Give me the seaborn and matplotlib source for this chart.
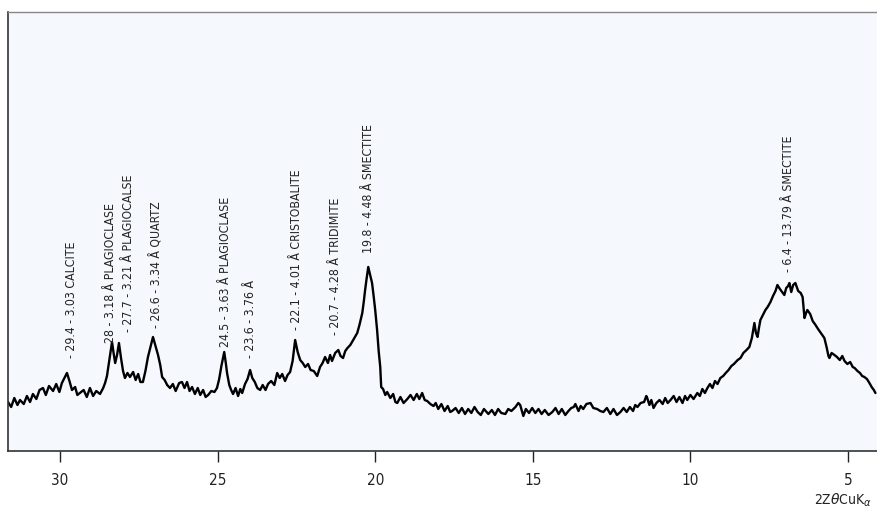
import matplotlib
matplotlib.use("Agg")
import matplotlib.pyplot as plt
import seaborn as sns
import pandas as pd
from matplotlib import font_manager
from matplotlib.font_manager import FontProperties

# ---- data (intensity in arbitrary units) ----
two_theta = [31.65, 31.55, 31.45, 31.35, 31.27, 31.15, 31.05, 30.95, 30.86, 30.75, 30.65, 30.54, 30.45, 30.35,
             30.22, 30.12, 30.02, 29.94, 29.86, 29.78, 29.70, 29.62, 29.52, 29.45, 29.37, 29.25, 29.15, 29.05,
             28.95, 28.85, 28.73, 28.63, 28.57, 28.51, 28.43, 28.35, 28.30, 28.25, 28.19, 28.13, 28.06, 28.00,
             27.94, 27.86, 27.78, 27.68, 27.60, 27.52, 27.45, 27.37, 27.29, 27.21, 27.13, 27.05, 26.97, 26.89,
             26.82, 26.76, 26.68, 26.60, 26.51, 26.42, 26.33, 26.22, 26.13, 26.05, 25.97, 25.89, 25.81, 25.72,
             25.63, 25.55, 25.46, 25.38, 25.30, 25.20, 25.10, 25.02, 24.95, 24.88, 24.79, 24.74, 24.70, 24.63,
             24.57, 24.51, 24.43, 24.35, 24.28, 24.22, 24.13, 24.05, 23.97, 23.90, 23.82, 23.74, 23.65, 23.57,
             23.48, 23.40, 23.30, 23.20, 23.11, 23.03, 22.95, 22.86, 22.78, 22.70, 22.62, 22.54, 22.46, 22.38,
             22.30, 22.22, 22.13, 22.05, 21.95, 21.84, 21.75, 21.67, 21.59, 21.50, 21.43, 21.37, 21.27, 21.17,
             21.10, 21.02, 20.95, 20.88, 20.79, 20.70, 20.63, 20.57, 20.50, 20.41, 20.36, 20.32, 20.27, 20.22,
             20.16, 20.10, 20.05, 20.00, 19.94, 19.89, 19.84, 19.81, 19.75, 19.68, 19.62, 19.52, 19.43, 19.36,
             19.30, 19.20, 19.10, 18.98, 18.88, 18.78, 18.68, 18.60, 18.51, 18.43, 18.35, 18.25, 18.15, 18.08,
             18.00, 17.90, 17.80, 17.70, 17.62, 17.56, 17.45, 17.35, 17.25, 17.15, 17.05, 16.95, 16.85, 16.75,
             16.65, 16.55, 16.41, 16.30, 16.20, 16.10, 16.00, 15.87, 15.78, 15.68, 15.55, 15.46, 15.40, 15.30,
             15.22, 15.12, 15.02, 14.92, 14.82, 14.72, 14.62, 14.50, 14.38, 14.28, 14.18, 14.08, 13.97, 13.87,
             13.78, 13.70, 13.65, 13.55, 13.48, 13.40, 13.30, 13.17, 13.08, 12.96, 12.86, 12.76, 12.65, 12.54,
             12.44, 12.33, 12.22, 12.12, 12.02, 11.92, 11.82, 11.75, 11.68, 11.58, 11.47, 11.40, 11.37, 11.30,
             11.24, 11.17, 11.08, 10.98, 10.88, 10.80, 10.72, 10.63, 10.53, 10.44, 10.35, 10.25, 10.17, 10.10,
             10.00, 9.90, 9.78, 9.70, 9.62, 9.54, 9.46, 9.38, 9.30, 9.22, 9.14, 9.05, 8.96, 8.88, 8.79, 8.70,
             8.62, 8.50, 8.41, 8.32, 8.22, 8.13, 8.05, 7.97, 7.92, 7.87, 7.82, 7.78, 7.70, 7.62, 7.55, 7.46,
             7.38, 7.30, 7.24, 7.16, 7.09, 7.02, 6.96, 6.90, 6.86, 6.80, 6.74, 6.67, 6.58, 6.50, 6.44, 6.40,
             6.38, 6.33, 6.29, 6.20, 6.12, 6.03, 5.95, 5.86, 5.75, 5.68, 5.62, 5.59, 5.52, 5.43, 5.35, 5.26,
             5.18, 5.11, 5.02, 4.93, 4.85, 4.79, 4.70, 4.62, 4.55, 4.48, 4.40, 4.32, 4.25, 4.18, 4.13]
intensity = [49, 44, 53, 46, 51, 47, 55, 49, 57, 52, 61, 63, 56, 65,
             60, 67, 59, 68, 73, 78, 70, 61, 64, 56, 58, 61, 54, 63,
             55, 60, 57, 63, 68, 75, 92, 109, 98, 88, 96, 108, 92, 80,
             73, 78, 74, 79, 71, 77, 69, 69, 80, 94, 104, 114, 105, 96,
             86, 74, 71, 66, 63, 67, 60, 68, 69, 63, 69, 60, 64, 57,
             63, 56, 61, 54, 56, 60, 59, 63, 72, 85, 99, 88, 78, 66,
             61, 57, 63, 55, 62, 58, 67, 72, 81, 73, 69, 63, 61, 66,
             61, 67, 70, 66, 78, 73, 77, 70, 76, 79, 90, 111, 99, 91,
             88, 84, 87, 81, 80, 75, 84, 88, 94, 88, 96, 90, 98, 101,
             95, 93, 100, 103, 106, 111, 115, 118, 126, 138, 150, 161, 173, 184,
             176, 168, 155, 141, 121, 100, 84, 64, 62, 56, 59, 53, 57, 49,
             48, 54, 48, 52, 56, 51, 57, 52, 58, 51, 50, 47, 45, 48,
             42, 47, 40, 45, 39, 40, 43, 38, 43, 37, 42, 38, 44, 39,
             36, 42, 37, 41, 36, 42, 38, 37, 42, 40, 44, 48, 46, 35,
             42, 38, 43, 38, 42, 37, 41, 36, 39, 43, 37, 42, 36, 40,
             43, 44, 47, 40, 45, 42, 47, 48, 43, 42, 40, 39, 43, 37,
             42, 36, 39, 43, 39, 44, 40, 46, 44, 48, 49, 55, 53, 46,
             51, 43, 48, 51, 47, 53, 48, 51, 55, 49, 54, 48, 55, 51,
             56, 52, 58, 55, 62, 58, 63, 67, 63, 70, 67, 73, 75, 78, 81, 85,
             87, 91, 93, 98, 101, 104, 113, 128, 118, 114, 124, 131, 136, 141, 144, 149,
             155, 160, 166, 162, 159, 156, 163, 165, 168, 159, 166, 168, 160, 158, 154, 140,
             133, 138, 141, 137, 130, 126, 122, 118, 113, 104, 95, 93, 98, 96, 94, 91,
             95, 90, 87, 89, 84, 83, 80, 78, 75, 74, 72, 68, 64, 61, 58]

peak_labels = ["- 29.4 - 3.03 CALCITE", "28 - 3.18 Å PLAGIOCLASE", "- 27.7 - 3.21 Å PLAGIOCALSE",
               "- 26.6 - 3.34 Å QUARTZ", "24.5 - 3.63 Å PLAGIOCLASE", "- 23.6 - 3.76 Å",
               "- 22.1 - 4.01 Å CRISTOBALITE", "- 20.7 - 4.28 Å TRIDIMITE", "19.8 - 4.48 Å SMECTITE",
               "- 6.4 - 13.79 Å SMECTITE"]
label_x = [29.62, 28.41, 27.84, 26.92, 24.76, 23.97, 22.51, 21.27, 20.22, 6.89]
label_y = [93, 108, 119, 123, 104, 93, 121, 116, 198, 179]
tick_values = [30, 25, 20, 15, 10, 5]

# ---- style ----
sns.set_theme(style="white")
plt.rcParams["font.family"] = ["DejaVu Sans"]

cond = FontProperties(family="DejaVu Sans", stretch="condensed")
has_condensed = "Condensed" in font_manager.findfont(cond)
label_size = 8.8 if has_condensed else 8

fig = plt.figure(figsize=(8.77, 5.16), dpi=100)
ax = fig.add_axes([8 / 877, 65 / 516, 1 - 8 / 877, 439 / 516])
ax.set_facecolor("#f5f9fd")

df = pd.DataFrame({"two_theta": two_theta, "intensity": intensity})
sns.lineplot(data=df, x="two_theta", y="intensity", sort=False, estimator=None,
             color="black", linewidth=1.7, ax=ax)

for txt, xv, yv in zip(peak_labels, label_x, label_y):
    ax.text(xv, yv, txt, rotation=90, ha="center", va="bottom",
            fontsize=label_size, fontstretch="condensed", color="#222222")

ax.set_xlim(31.65, 4.08)
ax.set_ylim(0, 439)
ax.set_xticks(tick_values)
ax.set_xticklabels([str(t) for t in tick_values], fontsize=11, color="#222222",
                   fontstretch="condensed")
ax.set_yticks([])
ax.set_xlabel("")
ax.set_ylabel("")
ax.tick_params(axis="x", direction="out", length=8, width=1, color="#222222", pad=8, bottom=True)

for side in ["left", "bottom"]:
    ax.spines[side].set_color("#333333")
    ax.spines[side].set_linewidth(1.2)
ax.spines["top"].set_color("#888888")
ax.spines["top"].set_linewidth(1.0)
ax.spines["right"].set_visible(False)

fig.text(872 / 877, 1 - 500 / 516, r"2Z$\theta$CuK$_{\alpha}$", ha="right", va="center",
         fontsize=10, fontstretch="condensed", color="#222222")

fig.savefig("out.png", dpi=100, facecolor="white")
